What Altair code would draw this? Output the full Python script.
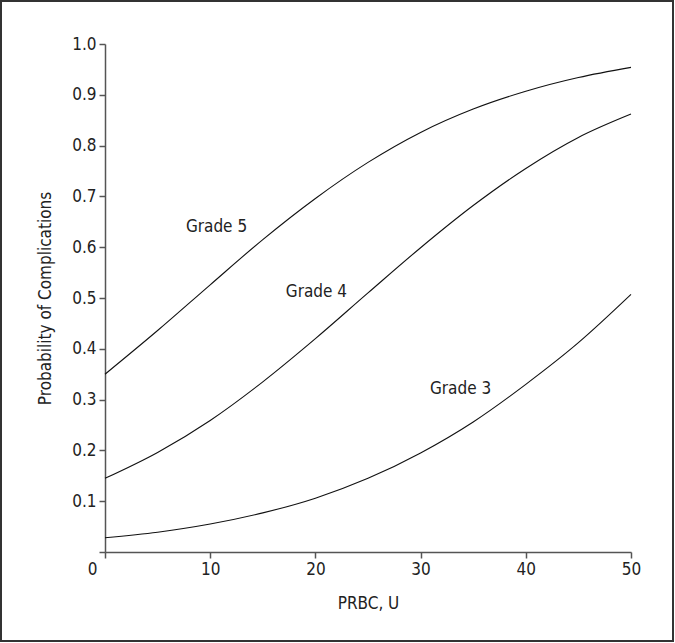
import altair as alt
import pandas as pd

prbc = [0, 5, 10, 15, 20, 25, 30, 35, 40, 45, 50]
grade5 = [0.350, 0.436, 0.526, 0.615, 0.696, 0.767, 0.826, 0.872, 0.907, 0.934, 0.954]
grade4 = [0.145, 0.196, 0.259, 0.335, 0.420, 0.510, 0.599, 0.682, 0.755, 0.816, 0.862]
grade3 = [0.028, 0.039, 0.055, 0.077, 0.106, 0.145, 0.195, 0.256, 0.330, 0.412, 0.507]

label_text = ["Grade 5", "Grade 4", "Grade 3"]
label_x = [10.6, 20.1, 33.8]
label_y = [0.639, 0.511, 0.320]

rows = []
for name, vals in [("Grade 5", grade5), ("Grade 4", grade4), ("Grade 3", grade3)]:
    for x, v in zip(prbc, vals):
        rows.append({"grade": name, "prbc": x, "p": v})
df = pd.DataFrame(rows)
lab = pd.DataFrame({"text": label_text, "x": label_x, "y": label_y})

FONT = "Liberation Sans Narrow, DejaVu Sans Condensed, Roboto, sans-serif"
AX = "#555555"

xscale = alt.Scale(domain=[0, 50], nice=False, zero=False)
yscale = alt.Scale(domain=[0, 1], nice=False)

lines = alt.Chart(df).mark_line(color="#111111", strokeWidth=1.1, interpolate="monotone").encode(
    x=alt.X("prbc:Q", scale=xscale,
            axis=alt.Axis(title="PRBC, U", values=[0, 10, 20, 30, 40, 50], format="d",
                          labelFlush=False,
                          labelOffset=alt.condition("datum.value == 0", alt.value(-13), alt.value(0)),
                          titlePadding=18)),
    y=alt.Y("p:Q", scale=yscale,
            axis=alt.Axis(title="Probability of Complications",
                          values=[0, 0.1, 0.2, 0.3, 0.4, 0.5, 0.6, 0.7, 0.8, 0.9, 1.0],
                          labelExpr="datum.value == 0 ? '' : format(datum.value, '.1f')",
                          titlePadding=17)),
    detail="grade:N",
)

texts = alt.Chart(lab).mark_text(font=FONT, fontSize=17, color="#222222").encode(
    x=alt.X("x:Q", scale=xscale),
    y=alt.Y("y:Q", scale=yscale),
    text="text:N",
)

border = alt.Chart(lab).mark_rect(fill=None, stroke="#333333", strokeWidth=2, clip=False).encode(
    x=alt.value(-104), x2=alt.value(568), y=alt.value(-43), y2=alt.value(597)
)

chart = alt.layer(lines, texts, border).properties(
    width=526, height=508,
    background="white",
    autosize=alt.AutoSizeParams(type="none"),
    padding={"left": 105, "top": 44, "right": 44, "bottom": 91},
).configure_view(stroke=None).configure_axis(
    grid=False,
    domainColor=AX, domainWidth=1.5,
    tickColor=AX, tickWidth=1.5, tickSize=6,
    labelFont=FONT, labelFontSize=17, labelColor="#222222", labelPadding=3,
    titleFont=FONT, titleFontSize=17, titleColor="#222222", titleFontWeight="normal",
)

chart.save("out.html", embed_options={"renderer": "svg", "actions": False})
